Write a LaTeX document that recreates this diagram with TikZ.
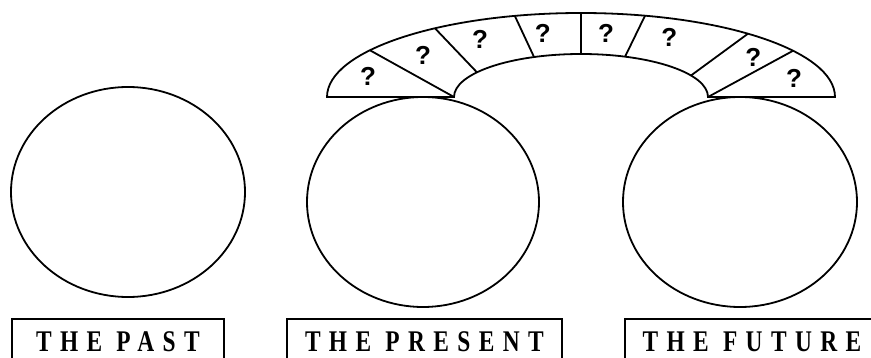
\documentclass[tikz,border=0pt]{standalone}
\usepackage{fontspec}
\setmainfont{Liberation Serif}
\newfontfamily\qfont{Liberation Sans}
\usetikzlibrary{shapes.geometric,positioning}

\begin{document}
\begin{tikzpicture}[x=1pt,y=-1pt,line width=1.8pt,
  oval/.style={draw,ellipse,minimum width=234pt,minimum height=210pt,inner sep=0pt},
  timebox/.style={draw,anchor=north west,minimum height=46pt,inner sep=0pt,
    font=\fontsize{30}{34}\selectfont\bfseries\addfontfeature{FakeStretch=0.78,LetterSpace=28}},
  qmark/.style={font=\qfont\fontsize{26}{30}\selectfont\bfseries,inner sep=0pt}]
  \clip (0,0) rectangle (871,358);

  % the three times
  \node[oval] (past) at (128,192) {};
  \node[oval,minimum width=232pt] (present) at (423,202) {};
  \node[oval] (future) at (740,202) {};

  \node[timebox,minimum width=212pt] (pastlbl) at (11,318) {THE PAST};
  \node[timebox,minimum width=275pt] (presentlbl) at (286,318) {THE PRESENT};
  \node[timebox,minimum width=254pt] (futurelbl) at (624,318) {THE FUTURE};

  % arch from present to future
  \coordinate (arch) at (581,97);
  \draw (327,97) arc[start angle=-180,end angle=0,x radius=254,y radius=84]
    -- (708,97) arc[start angle=0,end angle=-180,x radius=127,y radius=43] -- cycle;
  \foreach \a/\b in {146.2/180,125.1/145,105.1/111.7,90/90,75.4/69.7,48.9/30,33.4/0}
    \draw ([shift={(-\a:254 and 84)}]arch) -- ([shift={(-\b:127 and 43)}]arch);

  \foreach \x/\y [count=\i] in {368/76.7,423/55,480/39.3,542.7/33.3,606/33.3,669.3/37.3,753.3/57.3,794/78.3}
    \node[qmark] (q\i) at (\x,\y) {?};
\end{tikzpicture}
\end{document}
